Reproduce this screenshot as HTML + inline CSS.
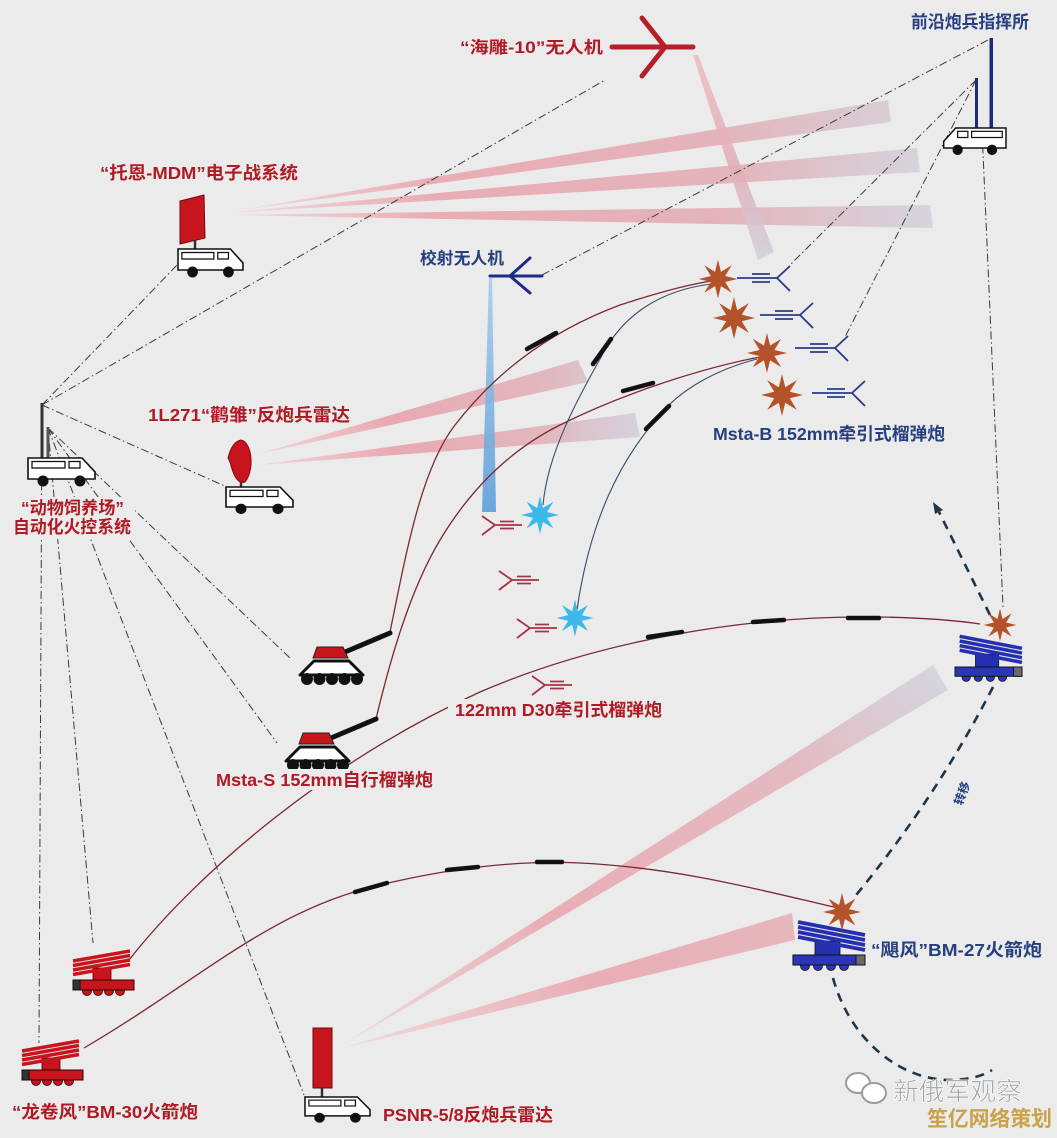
<!DOCTYPE html>
<html>
<head>
<meta charset="utf-8">
<style>
html,body{margin:0;padding:0;background:#ebebeb;}
body{width:1057px;height:1138px;overflow:hidden;}
svg{display:block;}
.t{font-family:"Liberation Sans","Noto Sans CJK SC",sans-serif;font-weight:bold;}
.r{fill:#b01a25;}
.b{fill:#26407f;}
.dd{fill:none;stroke:#3a3a3a;stroke-width:1;stroke-dasharray:8,3,1.5,3;}
.tr{fill:none;stroke:#7a2832;stroke-width:1.3;}
.tb{fill:none;stroke:#3a4a66;stroke-width:1.1;}
.dsh{stroke:#111;stroke-width:4.5;stroke-linecap:round;}
.mv{fill:none;stroke:#1f3447;stroke-width:2.6;stroke-dasharray:9,7;}
</style>
</head>
<body>
<svg width="1057" height="1138" viewBox="0 0 1057 1138" xmlns="http://www.w3.org/2000/svg">
<defs>
  <linearGradient id="gEW" gradientUnits="userSpaceOnUse" x1="215" y1="0" x2="935" y2="0">
    <stop offset="0" stop-color="#f3dde0"/>
    <stop offset="0.3" stop-color="#e9a4ac"/>
    <stop offset="0.7" stop-color="#e3abb4"/>
    <stop offset="1" stop-color="#d2d2dc"/>
  </linearGradient>
  <linearGradient id="gHD" gradientUnits="userSpaceOnUse" x1="0" y1="55" x2="0" y2="258">
    <stop offset="0" stop-color="#ecbcc2"/>
    <stop offset="0.55" stop-color="#e2adb6"/>
    <stop offset="1" stop-color="#d0d0da"/>
  </linearGradient>
  <linearGradient id="gR1" gradientUnits="userSpaceOnUse" x1="258" y1="0" x2="640" y2="0">
    <stop offset="0" stop-color="#f0d4d8"/>
    <stop offset="0.35" stop-color="#e8a0a8"/>
    <stop offset="0.75" stop-color="#e0b0b8"/>
    <stop offset="1" stop-color="#d0d0da"/>
  </linearGradient>
  <linearGradient id="gPS" gradientUnits="userSpaceOnUse" x1="339" y1="1048" x2="945" y2="678">
    <stop offset="0" stop-color="#f0dadd"/>
    <stop offset="0.35" stop-color="#e9a5ad"/>
    <stop offset="0.75" stop-color="#e3b3bb"/>
    <stop offset="1" stop-color="#d2d2dc"/>
  </linearGradient>
  <linearGradient id="gBL" gradientUnits="userSpaceOnUse" x1="0" y1="277" x2="0" y2="512">
    <stop offset="0" stop-color="#a8cdea"/>
    <stop offset="1" stop-color="#5e9fd9"/>
  </linearGradient>

  <polygon id="star" points="0,-20 3.06,-7.39 14.14,-14.14 7.39,-3.06 20,0 7.39,3.06 14.14,14.14 3.06,7.39 0,20 -3.06,7.39 -14.14,14.14 -7.39,3.06 -20,0 -7.39,-3.06 -14.14,-14.14 -3.06,-7.39"/>

  <g id="van">
    <path d="M0,0 H54 L67,14 V21 H0 Z" fill="#fff" stroke="#111" stroke-width="1.6"/>
    <rect x="4" y="3.5" width="33" height="6.5" fill="none" stroke="#111" stroke-width="1.3"/>
    <rect x="41" y="3.5" width="11" height="6.5" fill="none" stroke="#111" stroke-width="1.3"/>
    <circle cx="15" cy="23" r="5.5" fill="#111"/>
    <circle cx="52" cy="23" r="5.5" fill="#111"/>
  </g>

  <g id="tank">
    <line x1="345" y1="652" x2="390" y2="633" stroke="#111" stroke-width="5" stroke-linecap="round"/>
    <polygon points="300,675 314,661 349,661 363,675" fill="#fff" stroke="#111" stroke-width="3" stroke-linejoin="round"/>
    <polygon points="317,647 343,647 348,658 313,658" fill="#c8141c" stroke="#222" stroke-width="1"/>
    <circle cx="307" cy="679" r="6" fill="#111"/>
    <circle cx="319.5" cy="679" r="6" fill="#111"/>
    <circle cx="332" cy="679" r="6" fill="#111"/>
    <circle cx="344.5" cy="679" r="6" fill="#111"/>
    <circle cx="357" cy="679" r="6" fill="#111"/>
  </g>

  <g id="blaunch">
    <rect x="22" y="-14" width="25" height="15" fill="#2530b0" stroke="#111" stroke-width="0.8"/>
    <circle cx="12" cy="11" r="4.5" fill="#2a35b8" stroke="#111" stroke-width="0.8"/>
    <circle cx="25" cy="11" r="4.5" fill="#2a35b8" stroke="#111" stroke-width="0.8"/>
    <circle cx="38" cy="11" r="4.5" fill="#2a35b8" stroke="#111" stroke-width="0.8"/>
    <circle cx="51" cy="11" r="4.5" fill="#2a35b8" stroke="#111" stroke-width="0.8"/>
    <rect x="0" y="0" width="72" height="10" fill="#2a35b8" stroke="#111" stroke-width="1"/>
    <rect x="63" y="0" width="9" height="10" fill="#6a6a6a" stroke="#111" stroke-width="1"/>
    <g stroke="#2530b0" stroke-width="3.8">
      <line x1="5" y1="-33" x2="72" y2="-20"/>
      <line x1="5" y1="-28" x2="72" y2="-15"/>
      <line x1="5" y1="-23" x2="72" y2="-10"/>
      <line x1="5" y1="-18" x2="72" y2="-5"/>
    </g>
  </g>

  <g id="rlaunch">
    <rect x="20" y="-12" width="18" height="13" fill="#c8141c" stroke="#400" stroke-width="0.8"/>
    <circle cx="14" cy="11" r="4.5" fill="#c8141c" stroke="#300" stroke-width="0.8"/>
    <circle cx="25" cy="11" r="4.5" fill="#c8141c" stroke="#300" stroke-width="0.8"/>
    <circle cx="36" cy="11" r="4.5" fill="#c8141c" stroke="#300" stroke-width="0.8"/>
    <circle cx="47" cy="11" r="4.5" fill="#c8141c" stroke="#300" stroke-width="0.8"/>
    <rect x="0" y="0" width="61" height="10" fill="#c8141c" stroke="#300" stroke-width="1"/>
    <rect x="0" y="0" width="7" height="10" fill="#333" stroke="#111" stroke-width="1"/>
    <g stroke="#c8141c" stroke-width="3.5">
      <line x1="0" y1="-19" x2="57" y2="-29"/>
      <line x1="0" y1="-14.5" x2="57" y2="-24.5"/>
      <line x1="0" y1="-10" x2="57" y2="-20"/>
      <line x1="0" y1="-5.5" x2="57" y2="-15.5"/>
    </g>
  </g>

  <path id="bgun" d="M-40,0 H0 M-25,-4 H-7 M-25,4 H-7 M13,-12 L0,0 L13,13" fill="none" stroke="#2a3a8a" stroke-width="1.8"/>
  <path id="rgun" d="M0,0 H27 M5,-3.5 H19 M5,3.5 H19 M-13,-9 L0,0 L-13,10" fill="none" stroke="#a83244" stroke-width="1.8"/>
</defs>

<rect x="0" y="0" width="1057" height="1138" fill="#ebebeb"/>

<!-- beams -->
<g fill-opacity="0.88">
  <polygon points="240,210 888,100 891,122" fill="url(#gEW)"/>
  <polygon points="225,213 917,148 920,172" fill="url(#gEW)"/>
  <polygon points="228,215 930,205 933,228" fill="url(#gEW)"/>
  <polygon points="693,55 698,55 774,252 758,260" fill="url(#gHD)"/>
  <polygon points="258,454 578,360 588,382" fill="url(#gR1)"/>
  <polygon points="258,465 635,413 640,437" fill="url(#gR1)"/>
  <polygon points="339,1047 933,665 948,690" fill="url(#gPS)"/>
  <polygon points="339,1049 792,913 795,940" fill="url(#gPS)"/>
</g>
<polygon points="489,278 492,278 496,512 482,512" fill="url(#gBL)" fill-opacity="0.9"/>

<!-- dash-dot command links -->
<path class="dd" d="M42,405 L605,80"/>
<path class="dd" d="M42,405 L180,262"/>
<path class="dd" d="M42,405 L227,487"/>
<path class="dd" d="M542,275 L988,40"/>
<path class="dd" d="M976,80 L790,265"/>
<path class="dd" d="M976,80 L845,337"/>
<path class="dd" d="M982,130 L1003,607"/>
<path class="dd" d="M42,405 L39,1043"/>
<path class="dd" d="M48,428 L93,943"/>
<path class="dd" d="M48,428 L304,1095"/>
<path class="dd" d="M48,428 L277,743"/>
<path class="dd" d="M48,428 L290,658"/>

<!-- trajectories -->
<path class="tr" d="M390,632 C405,560 420,470 455,425 C490,380 540,335 620,305 C660,292 690,284 712,281"/>
<path class="tr" d="M376,719 C390,660 410,590 440,540 C470,490 510,450 560,425 C620,395 700,368 765,356"/>
<path class="tb" d="M712,284 C660,290 625,315 605,350 C580,395 548,450 543,505"/>
<path class="tb" d="M757,359 C715,370 680,390 660,415 C620,460 590,520 577,610"/>
<path class="tr" d="M129,960 C200,870 330,760 480,692 C600,640 750,615 880,617 C930,618 960,621 980,624"/>
<path class="tr" d="M84,1048 C200,980 270,910 380,885 C450,868 520,860 580,863 C680,868 760,890 838,908"/>

<!-- black dash segments -->
<line class="dsh" x1="527" y1="349" x2="556" y2="333"/>
<line class="dsh" x1="593" y1="364" x2="611" y2="339"/>
<line class="dsh" x1="623" y1="391" x2="653" y2="383"/>
<line class="dsh" x1="646" y1="429" x2="669" y2="406"/>
<line class="dsh" x1="648" y1="637" x2="682" y2="632"/>
<line class="dsh" x1="753" y1="622" x2="784" y2="620"/>
<line class="dsh" x1="848" y1="618" x2="879" y2="618"/>
<line class="dsh" x1="355" y1="892" x2="387" y2="883"/>
<line class="dsh" x1="447" y1="870" x2="478" y2="867"/>
<line class="dsh" x1="537" y1="862" x2="562" y2="862"/>

<!-- movement dashed paths -->
<path class="mv" d="M990,615 L939,512"/>
<polygon points="933,502 943,510 935,514" fill="#1f3447"/>
<path class="mv" d="M993,687 Q935,800 852,900"/>
<path class="mv" d="M833,978 C850,1040 900,1080 950,1080 C970,1080 985,1075 992,1070"/>

<!-- UAVs -->
<g stroke="#b3202a" stroke-width="5" stroke-linecap="round" fill="none">
  <line x1="612" y1="47" x2="693" y2="47"/>
  <polyline points="642,18 665,47 642,76"/>
</g>
<g stroke="#1d2a8a" stroke-width="3" stroke-linecap="round" fill="none">
  <line x1="490" y1="276" x2="542" y2="276"/>
  <polyline points="530,258 510,276 530,293"/>
</g>

<!-- gun icons -->
<use href="#bgun" transform="translate(777,278)"/>
<use href="#bgun" transform="translate(800,315)"/>
<use href="#bgun" transform="translate(835,348)"/>
<use href="#bgun" transform="translate(852,393)"/>
<use href="#rgun" transform="translate(495,525)"/>
<use href="#rgun" transform="translate(512,580)"/>
<use href="#rgun" transform="translate(530,628)"/>
<use href="#rgun" transform="translate(545,685)"/>

<!-- stars -->
<use href="#star" fill="#b4532a" transform="translate(718,279) scale(0.97)"/>
<use href="#star" fill="#b4532a" transform="translate(734,318) scale(1.05)"/>
<use href="#star" fill="#b4532a" transform="translate(767,353) scale(1.0)"/>
<use href="#star" fill="#b4532a" transform="translate(782,395) scale(1.05)"/>
<use href="#star" fill="#3cb9e8" transform="translate(540,515) scale(0.95)"/>
<use href="#star" fill="#3cb9e8" transform="translate(575,618) scale(0.92)"/>

<!-- fire control vehicle -->
<rect x="40.5" y="403" width="3" height="55" fill="#333"/>
<rect x="46.5" y="427" width="3" height="31" fill="#555"/>
<use href="#van" transform="translate(28,458)"/>

<!-- EW system -->
<line x1="195" y1="238" x2="195" y2="250" stroke="#333" stroke-width="2.5"/>
<polygon points="180,201 204,195 205,238 180,244" fill="#c8141c" stroke="#6a0a0e" stroke-width="1"/>
<use href="#van" transform="translate(178,249) scale(0.97,1)"/>

<!-- 1L271 radar -->
<line x1="241" y1="480" x2="241" y2="488" stroke="#333" stroke-width="2.5"/>
<path d="M241,440 C252,442 255,470 245,482 C236,485 232,470 230,462 L228,458 C230,450 234,441 241,440 Z" fill="#c8141c" stroke="#8a0a10" stroke-width="1"/>
<use href="#van" transform="translate(226,487) scale(1,0.95)"/>

<!-- command post -->
<rect x="989.5" y="38" width="3.5" height="90" fill="#1f2a7a"/>
<rect x="975" y="78" width="3" height="50" fill="#1f2a7a"/>
<use href="#van" transform="translate(1006,128) scale(-0.93,0.95)"/>

<!-- PSNR radar -->
<line x1="322" y1="1087" x2="322" y2="1098" stroke="#333" stroke-width="2.5"/>
<rect x="313" y="1028" width="19" height="60" fill="#c8141c" stroke="#6a0a0e" stroke-width="1"/>
<use href="#van" transform="translate(305,1097) scale(0.97,0.9)"/>

<!-- tanks -->
<use href="#tank"/>
<use href="#tank" transform="translate(-14,86)"/>

<!-- launchers -->
<use href="#rlaunch" transform="translate(73,980)"/>
<use href="#rlaunch" transform="translate(22,1070)"/>
<use href="#blaunch" transform="translate(955,667) scale(0.93)"/>
<use href="#blaunch" transform="translate(793,955)"/>
<use href="#star" fill="#b4532a" transform="translate(1000,625) scale(0.82)"/>
<use href="#star" fill="#b4532a" transform="translate(842,912) scale(0.95)"/>

<!-- label backgrounds -->
<rect x="12" y="497" width="123" height="42" fill="#ebebeb"/>
<rect x="448" y="699" width="218" height="21" fill="#ebebeb"/>
<rect x="211" y="769" width="228" height="21" fill="#ebebeb"/>

<!-- labels -->
<g class="t" font-size="17.5">
  <text class="r" x="460" y="53" textLength="143" lengthAdjust="spacingAndGlyphs" font-size="16.5">“海雕-10”无人机</text>
  <text class="b" x="911" y="28" textLength="118" lengthAdjust="spacingAndGlyphs">前沿炮兵指挥所</text>
  <text class="r" x="100" y="179" textLength="198" lengthAdjust="spacingAndGlyphs">“托恩-MDM”电子战系统</text>
  <text class="b" x="420" y="264" textLength="84" lengthAdjust="spacingAndGlyphs" font-size="16.5">校射无人机</text>
  <text class="r" x="148" y="421" textLength="202" lengthAdjust="spacingAndGlyphs">1L271“鹳雏”反炮兵雷达</text>
  <text class="r" x="21" y="514" textLength="103" lengthAdjust="spacingAndGlyphs">“动物饲养场”</text>
  <text class="r" x="13" y="533" textLength="118" lengthAdjust="spacingAndGlyphs">自动化火控系统</text>
  <text class="b" x="713" y="440" textLength="232" lengthAdjust="spacingAndGlyphs">Msta-B 152mm牵引式榴弹炮</text>
  <text class="r" x="455" y="716" textLength="207" lengthAdjust="spacingAndGlyphs">122mm D30牵引式榴弹炮</text>
  <text class="r" x="216" y="786" textLength="217" lengthAdjust="spacingAndGlyphs">Msta-S  152mm自行榴弹炮</text>
  <text class="b" x="871" y="956" textLength="171" lengthAdjust="spacingAndGlyphs">“飓风”BM-27火箭炮</text>
  <text class="r" x="12" y="1118" textLength="186" lengthAdjust="spacingAndGlyphs">“龙卷风”BM-30火箭炮</text>
  <text class="r" x="383" y="1121" textLength="170" lengthAdjust="spacingAndGlyphs">PSNR-5/8反炮兵雷达</text>
</g>
<text class="t b" x="0" y="0" font-size="12" transform="translate(962,806) rotate(-70)">转移</text>

<!-- watermark -->
<ellipse cx="858" cy="1083" rx="12" ry="10" fill="#fff" stroke="#9a9a9a" stroke-width="2"/>
<ellipse cx="874" cy="1093" rx="12" ry="10" fill="#fff" stroke="#9a9a9a" stroke-width="2"/>
<text x="893" y="1100" font-family="'Liberation Sans','Noto Sans CJK SC',sans-serif" font-size="25" fill="#a0a0a0" stroke="#ffffff" stroke-width="0.6" textLength="129" lengthAdjust="spacingAndGlyphs">新俄军观察</text>
<text class="t" x="927" y="1126" font-size="21" fill="#c9a24a" textLength="125" lengthAdjust="spacingAndGlyphs">笙亿网络策划</text>
</svg>
</body>
</html>
